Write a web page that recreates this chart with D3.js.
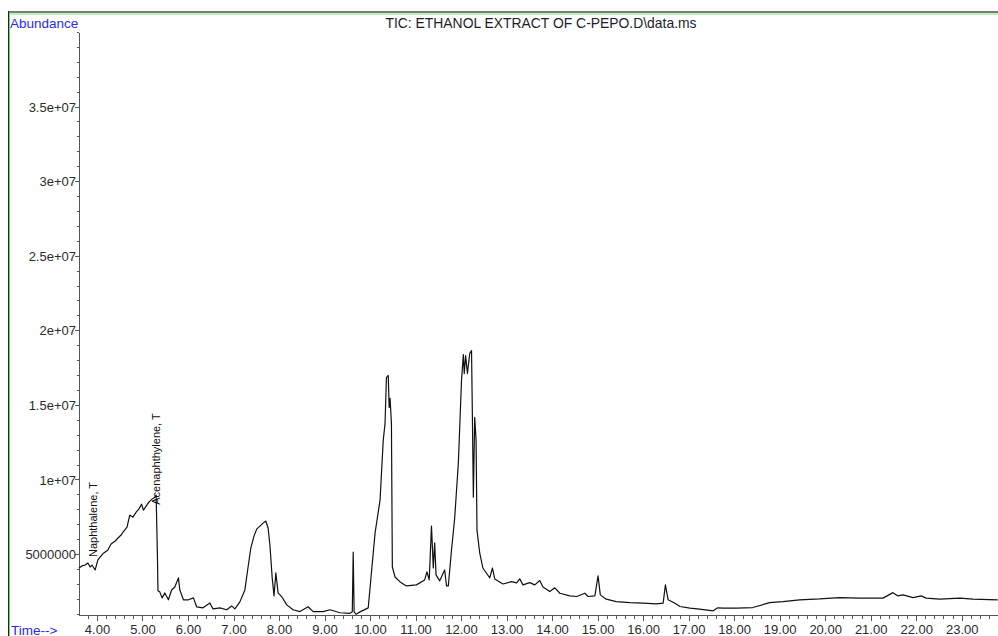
<!DOCTYPE html>
<html>
<head>
<meta charset="utf-8">
<script src="https://cdn.jsdelivr.net/npm/d3@7"></script>
<style>
  body { margin: 0; background: #fff; }
  svg { display: block; font-family: "Liberation Sans", Arial, sans-serif; }
  .axis path, .axis line { stroke: #555; shape-rendering: crispEdges; }
  .axis text { fill: #2b2b2b; font-size: 13px; }
</style>
</head>
<body>
<script>
// retention time (min)
const times = [
  3.605, 3.67, 3.74, 3.80, 3.85, 3.89, 3.96, 4.02, 4.09, 4.15, 4.24, 4.31, 4.40, 4.46, 4.53, 4.59,
  4.66, 4.72, 4.79, 4.86, 4.92, 4.98, 5.02, 5.08, 5.14, 5.21, 5.27, 5.30, 5.33, 5.34, 5.38, 5.43,
  5.49, 5.57, 5.64, 5.71, 5.79, 5.82, 5.90, 6.01, 6.12, 6.19, 6.33, 6.48, 6.55, 6.70, 6.85, 6.96,
  7.03, 7.14, 7.25, 7.32, 7.38, 7.45, 7.51, 7.58, 7.65, 7.71, 7.76, 7.80, 7.85, 7.89, 7.93, 7.98,
  8.06, 8.17, 8.31, 8.46, 8.64, 8.75, 8.97, 9.12, 9.34, 9.56, 9.61, 9.63, 9.65, 9.69, 9.78, 9.96,
  10.03, 10.11, 10.22, 10.29, 10.33, 10.36, 10.40, 10.42, 10.44, 10.47, 10.49, 10.55, 10.66, 10.80,
  11.02, 11.20, 11.25, 11.30, 11.35, 11.39, 11.42, 11.45, 11.53, 11.64, 11.68, 11.72, 11.79, 11.86,
  11.94, 12.01, 12.05, 12.07, 12.10, 12.14, 12.19, 12.23, 12.25, 12.27, 12.30, 12.33, 12.35, 12.41,
  12.48, 12.57, 12.63, 12.69, 12.74, 12.92, 13.11, 13.22, 13.29, 13.36, 13.51, 13.62, 13.73, 13.80,
  13.95, 14.06, 14.17, 14.39, 14.54, 14.72, 14.79, 14.94, 15.01, 15.06, 15.19, 15.41, 15.71, 16.00,
  16.29, 16.44, 16.49, 16.55, 16.70, 16.81, 17.03, 17.24, 17.54, 17.64, 17.76, 18.05, 18.41, 18.78,
  19.07, 19.44, 19.88, 20.32, 20.76, 21.27, 21.49, 21.60, 21.71, 21.93, 22.11, 22.22, 22.52, 22.96,
  23.25, 23.79
];

// total ion current abundance
const abundance = [
  4.06e6, 4.20e6, 4.26e6, 4.40e6, 4.13e6, 4.26e6, 3.93e6, 4.60e6, 4.87e6, 5.07e6, 5.27e6, 5.67e6, 5.87e6, 6.07e6, 6.27e6, 6.54e6,
  6.80e6, 7.61e6, 7.47e6, 7.81e6, 8.01e6, 8.34e6, 7.94e6, 8.21e6, 8.48e6, 8.68e6, 8.81e6, 8.95e6, 4.60e6, 2.53e6, 2.46e6, 2.06e6,
  2.39e6, 1.93e6, 2.59e6, 2.79e6, 3.40e6, 2.59e6, 1.93e6, 1.93e6, 2.06e6, 1.46e6, 1.39e6, 1.72e6, 1.32e6, 1.39e6, 1.26e6, 1.52e6,
  1.32e6, 1.79e6, 2.59e6, 4.13e6, 5.40e6, 6.20e6, 6.67e6, 6.87e6, 7.07e6, 7.21e6, 6.74e6, 5.60e6, 3.40e6, 2.19e6, 3.73e6, 2.39e6,
  2.13e6, 1.59e6, 1.26e6, 1.14e6, 1.46e6, 1.14e6, 1.14e6, 1.26e6, 1.06e6, 1.02e6, 1.12e6, 5.13e6, 1.12e6, 0.96e6, 1.12e6, 1.39e6,
  3.73e6, 6.40e6, 8.61e6, 12.62e6, 13.76e6, 16.83e6, 16.97e6, 14.83e6, 15.43e6, 13.76e6, 4.13e6, 3.46e6, 3.13e6, 2.86e6,
  2.93e6, 3.26e6, 3.80e6, 3.26e6, 6.87e6, 4.06e6, 5.74e6, 3.60e6, 3.20e6, 3.93e6, 2.86e6, 2.86e6, 5.27e6, 7.41e6,
  11.08e6, 16.63e6, 18.37e6, 17.10e6, 18.30e6, 17.10e6, 18.44e6, 18.64e6, 13.96e6, 8.81e6, 14.16e6, 12.62e6, 6.60e6, 5.07e6,
  4.06e6, 3.66e6, 3.40e6, 4.06e6, 3.33e6, 2.99e6, 3.15e6, 3.06e6, 3.33e6, 2.93e6, 3.08e6, 2.93e6, 3.22e6, 2.79e6,
  2.48e6, 2.73e6, 2.37e6, 2.19e6, 2.15e6, 2.37e6, 2.15e6, 2.19e6, 3.53e6, 2.26e6, 1.97e6, 1.81e6, 1.74e6, 1.70e6,
  1.66e6, 1.70e6, 2.93e6, 1.93e6, 1.70e6, 1.48e6, 1.37e6, 1.30e6, 1.19e6, 1.39e6, 1.37e6, 1.37e6, 1.41e6, 1.74e6,
  1.81e6, 1.93e6, 1.99e6, 2.08e6, 2.04e6, 2.04e6, 2.41e6, 2.19e6, 2.26e6, 2.08e6, 2.19e6, 2.04e6, 1.97e6, 2.04e6,
  1.97e6, 1.93e6
];

const xTicks = d3.range(4, 24);
const yTicks = [5e6, 1e7, 1.5e7, 2e7, 2.5e7, 3e7, 3.5e7];
const yTickLabels = ['5000000', '1e+07', '1.5e+07', '2e+07', '2.5e+07', '3e+07', '3.5e+07'];

// peak annotations (time and abundance where each label starts)
const peakNames = ['Naphthalene, T', 'Acenaphthylene, T'];
const peakTimes = [3.96, 5.34];
const peakLabelAt = [4.8e6, 8.3e6];

const title = 'TIC: ETHANOL EXTRACT OF C-PEPO.D\\data.ms';

const width = 998;
const height = 636;
const plotLeft = 79;
const plotTop = 32;
const plotBottom = 615;

const data = times.map((t, i) => ({ t: t, a: abundance[i] }));

const canvas = d3.select('body').append('svg')
                  .attr('width', width)
                  .attr('height', height);

// window frame
canvas.append('line').attr('x1', 8).attr('x2', width).attr('y1', 12).attr('y2', 12)
  .attr('stroke', '#7a7a7a').attr('stroke-width', 2);
canvas.append('line').attr('x1', 9).attr('x2', width).attr('y1', 14).attr('y2', 14)
  .attr('stroke', '#b8f5b8').attr('stroke-width', 2);
canvas.append('line').attr('x1', 8.5).attr('x2', 8.5).attr('y1', 11).attr('y2', height)
  .attr('stroke', '#222').attr('stroke-width', 1);
canvas.append('line').attr('x1', 9.5).attr('x2', 9.5).attr('y1', 13).attr('y2', height)
  .attr('stroke', '#66dd66').attr('stroke-width', 1);

const xScale = d3.scaleLinear().domain([3.605, 23.82]).range([plotLeft, width + 1]);
const yScale = d3.scaleLinear().domain([0.91e6, 4e7]).range([plotBottom, plotTop]);

const xAxis = d3.axisBottom(xScale).tickValues(xTicks).tickSize(6).tickFormat(d3.format('.2f'));
const xMinor = d3.axisBottom(xScale)
                .tickValues(d3.range(3.8, 23.81, 0.2).filter((v) => Math.abs(v - Math.round(v)) > 0.01))
                .tickSize(4).tickFormat('');
const yAxis = d3.axisLeft(yScale).tickValues(yTicks).tickSize(4)
                .tickFormat((d, i) => yTickLabels[i]);
const yMinor = d3.axisLeft(yScale).tickValues(d3.range(1e6, 4.01e7, 1e6)).tickSize(2).tickFormat('');

canvas.append('g')
  .attr('class', 'axis')
  .attr('transform', `translate(0, ${plotBottom})`)
  .call(xAxis.tickSizeOuter(0))
  .call((g) => g.selectAll('text').attr('dy', '1.05em').attr('y', 5));

canvas.append('g')
  .attr('class', 'axis')
  .attr('transform', `translate(0, ${plotBottom})`)
  .call(xMinor.tickSizeOuter(0))
  .call((g) => g.select('.domain').remove());

canvas.append('g')
  .attr('class', 'axis')
  .attr('transform', `translate(${plotLeft}, 0)`)
  .call(yAxis.tickSizeOuter(0))
  .call((g) => g.selectAll('text').attr('x', -3).attr('dy', '0.36em'));

canvas.append('g')
  .attr('class', 'axis')
  .attr('transform', `translate(${plotLeft}, 0)`)
  .call(yMinor.tickSizeOuter(0))
  .call((g) => g.select('.domain').remove());

const line = d3.line()
              .x((d) => xScale(d.t))
              .y((d) => yScale(d.a));

canvas.append('path')
  .datum(data)
  .attr('d', line)
  .attr('fill', 'none')
  .attr('stroke', '#111')
  .attr('stroke-width', 1.2)
  .attr('stroke-linejoin', 'round');

// peak labels, vertical
canvas.selectAll('.peak')
  .data(peakNames)
  .enter()
  .append('text')
  .attr('class', 'peak')
  .attr('transform', (d, i) => `translate(${xScale(peakTimes[i]) + 2}, ${yScale(peakLabelAt[i])}) rotate(-90)`)
  .attr('font-size', 11)
  .attr('fill', '#111')
  .text((d) => d);

canvas.append('text')
  .attr('x', 10).attr('y', 28)
  .attr('font-size', 13.5).attr('fill', '#2a2aee')
  .text('Abundance');

canvas.append('text')
  .attr('x', 11).attr('y', 635)
  .attr('font-size', 13.5).attr('fill', '#2a2aee')
  .text('Time-->');

canvas.append('text')
  .attr('x', 541).attr('y', 28)
  .attr('text-anchor', 'middle')
  .attr('font-size', 13.9).attr('fill', '#1e1e2a')
  .text(title);
</script>
</body>
</html>
